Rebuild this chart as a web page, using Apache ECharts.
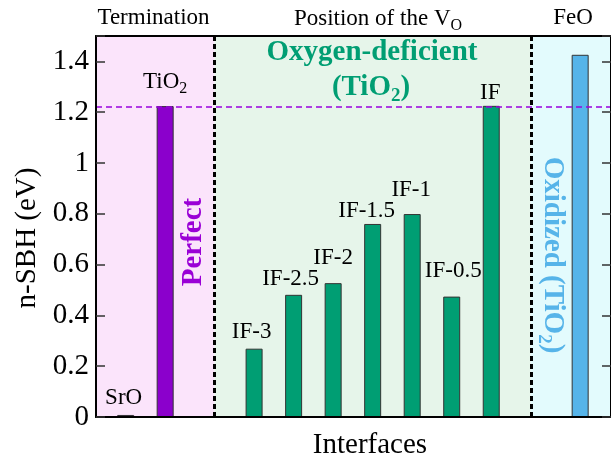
<!DOCTYPE html>
<html>
<head>
<meta charset="utf-8">
<script src="https://cdn.jsdelivr.net/npm/echarts@6/dist/echarts.min.js"></script>
<style>
html,body{margin:0;padding:0;background:#fff;}
#chart{width:611px;height:458px;}
</style>
</head>
<body>
<div id="chart"></div>
<script>
// ---- data ----
const categories = ['SrO', 'TiO2', 'IF-3', 'IF-2.5', 'IF-2', 'IF-1.5', 'IF-1', 'IF-0.5', 'IF', 'FeO'];
const sbhValues = [0.008, 1.224, 0.269, 0.481, 0.527, 0.760, 0.799, 0.474, 1.225, 1.426];
const groups = ['perfect', 'perfect', 'deficient', 'deficient', 'deficient', 'deficient', 'deficient', 'deficient', 'deficient', 'oxidized'];
const referenceSBH = 1.224;
const yTicks = [0, 0.2, 0.4, 0.6, 0.8, 1, 1.2, 1.4];

// ---- layout (slot positions along the x scale, label nudges in px) ----
const slots = [1, 2, 4.25, 5.25, 6.25, 7.25, 8.25, 9.25, 10.25, 12.5];
const labelNudges = [[-2, 0], [0, -7], [-2.5, 0], [-3, 1.5], [0, -8], [-6, 4], [-1, -7.5], [1.5, -8.5], [-1, 4], null];
const xMin = 0.25, xMax = 13.28;
const dividers = [3.25, 11.25];

const colors = { perfect: '#8b00cc', deficient: '#009e73', oxidized: '#56b4e9' };
const bgColors = { perfect: '#fbe4fb', deficient: '#e6f5ea', oxidized: '#e3fbfd' };
const SERIF = '"Liberation Serif", "Times New Roman", serif';

const chart = echarts.init(document.getElementById('chart'));

const labelRich = {
  m: { fontFamily: SERIF, fontSize: 23, color: '#000', lineHeight: 30 },
  s: { fontFamily: SERIF, fontSize: 16, color: '#000', lineHeight: 16, verticalAlign: 'bottom' }
};

function subText(main, sub, after) {
  return '{m|' + main + '}{s|' + sub + '}' + (after ? '{m|' + after + '}' : '');
}
function graphicRich(size, subSize, weight, fill) {
  return {
    m: { fontFamily: SERIF, fontWeight: weight, fontSize: size, fill: fill, lineHeight: size + 7 },
    s: { fontFamily: SERIF, fontWeight: weight, fontSize: subSize, fill: fill, lineHeight: subSize, verticalAlign: 'bottom' }
  };
}

const barData = categories.map((c, i) => {
  const item = {
    name: c,
    value: [slots[i], sbhValues[i]],
    itemStyle: { color: colors[groups[i]] }
  };
  if (labelNudges[i]) {
    item.label = { show: true, offset: labelNudges[i] };
  } else {
    item.label = { show: false };
  }
  return item;
});

const axisCommon = {
  type: 'value', min: 0, max: 1.5, interval: 0.2,
  splitLine: { show: false },
  axisLine: { show: true, lineStyle: { color: '#000', width: 2 } },
  axisTick: { show: true, inside: true, length: 9, lineStyle: { color: '#333', width: 1.5 } },
  z: 10
};

chart.setOption({
  animation: false,
  grid: { left: 96, right: -1, top: 36, bottom: 41, containLabel: false },
  xAxis: [
    { type: 'value', min: xMin, max: xMax, position: 'bottom',
      axisLine: { show: true, onZero: false, lineStyle: { color: '#000', width: 2 } },
      axisTick: { show: false }, axisLabel: { show: false }, splitLine: { show: false }, z: 10 },
    { type: 'value', min: xMin, max: xMax, position: 'top',
      axisLine: { show: true, onZero: false, lineStyle: { color: '#000', width: 2 } },
      axisTick: { show: false }, axisLabel: { show: false }, splitLine: { show: false }, z: 10 }
  ],
  yAxis: [
    Object.assign({}, axisCommon, {
      position: 'left',
      axisLabel: {
        show: true, margin: 7, fontFamily: SERIF, fontSize: 29, color: '#000', padding: [0, 0, 5, 0],
        formatter: v => (yTicks.indexOf(Math.round(v * 10) / 10) >= 0 && v < 1.45) ? String(+v.toFixed(1)) : ''
      }
    }),
    Object.assign({}, axisCommon, { position: 'right', axisLabel: { show: false } })
  ],
  series: [
    {
      type: 'bar',
      xAxisIndex: 0, yAxisIndex: 0,
      barWidth: 17,
      data: barData,
      itemStyle: { borderColor: '#333', borderWidth: 1 },
      label: {
        show: true, position: 'top', distance: 2,
        formatter: p => p.name === 'TiO2' ? subText('TiO', '2') : '{m|' + p.name + '}',
        rich: labelRich
      },
      markArea: {
        silent: true,
        data: [
          [{ xAxis: xMin, itemStyle: { color: bgColors.perfect } }, { xAxis: dividers[0] }],
          [{ xAxis: dividers[0], itemStyle: { color: bgColors.deficient } }, { xAxis: dividers[1] }],
          [{ xAxis: dividers[1], itemStyle: { color: bgColors.oxidized } }, { xAxis: xMax }]
        ]
      },
      markLine: {
        silent: true, symbol: 'none', label: { show: false },
        data: [
          { yAxis: referenceSBH, lineStyle: { color: '#9a00e0', width: 1.5, type: [6, 4] } },
          { xAxis: dividers[0], lineStyle: { color: '#000', width: 3, type: [5, 3] } },
          { xAxis: dividers[1], lineStyle: { color: '#000', width: 3, type: [5, 3] } }
        ]
      }
    }
  ],
  graphic: [
    { type: 'text', x: 153.5, y: 18, style: { text: 'Termination', font: '23px ' + SERIF, fill: '#000', align: 'center', verticalAlign: 'middle' } },
    { type: 'text', x: 378, y: 19, style: { text: subText('Position of the V', 'O'), align: 'center', verticalAlign: 'middle', rich: graphicRich(23, 16, 'normal', '#000') } },
    { type: 'text', x: 573, y: 18, style: { text: 'FeO', font: '23px ' + SERIF, fill: '#000', align: 'center', verticalAlign: 'middle' } },
    { type: 'text', x: 370, y: 445, style: { text: 'Interfaces', font: '29px ' + SERIF, fill: '#000', align: 'center', verticalAlign: 'middle' } },
    { type: 'text', x: 27, y: 238, rotation: Math.PI / 2, style: { text: 'n-SBH (eV)', font: '29px ' + SERIF, fill: '#000', align: 'center', verticalAlign: 'middle' } },
    { type: 'text', x: 372, y: 53, z: 20, style: { text: 'Oxygen-deficient', font: 'bold 29px ' + SERIF, fill: colors.deficient, align: 'center', verticalAlign: 'middle' } },
    { type: 'text', x: 371, y: 88, z: 20, style: { text: subText('(TiO', '2', ')'), align: 'center', verticalAlign: 'middle', rich: graphicRich(29, 19, 'bold', colors.deficient) } },
    { type: 'text', x: 193.5, y: 242, z: 20, rotation: Math.PI / 2, style: { text: 'Perfect', font: 'bold 29px ' + SERIF, fill: '#9a00d6', align: 'center', verticalAlign: 'middle' } },
    { type: 'text', x: 552, y: 255, z: 20, rotation: -Math.PI / 2, style: { text: subText('Oxidized (TiO', '2', ')'), align: 'center', verticalAlign: 'middle', rich: graphicRich(29, 19, 'bold', colors.oxidized) } }
  ]
});
</script>
</body>
</html>
